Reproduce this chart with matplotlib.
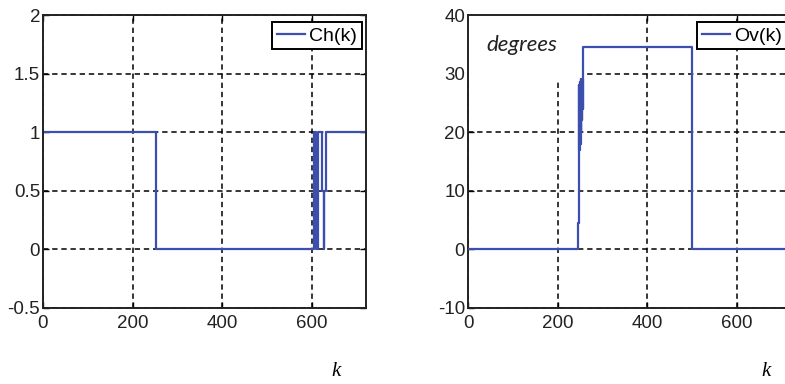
import matplotlib.pyplot as plt
from matplotlib.patches import Rectangle

plt.rcParams['axes.unicode_minus'] = False

# Ch(k): change points and values (steps-post)
k_h = [0, 253, 604, 608, 612, 621, 626, 627, 630, 720]
ch_vals = [1, 0, 1, 0, 1, 0.5, 0, 0.5, 1, 1]

# Ov(k)
k_v = [0, 246, 247, 248, 249, 250, 251, 252, 253, 254, 255, 256, 257, 500, 720]
ov_vals = [0, 4.5, 28, 17, 28.5, 18, 29, 20, 28.8, 22, 29, 24, 34.5, 0, 0]

xticks = [0, 200, 400, 600]
yticks_h = [-0.5, 0, 0.5, 1, 1.5, 2]
ytick_labels_h = ["-0.5", "0", "0.5", "1", "1.5", "2"]
yticks_v = [-10, 0, 10, 20, 30, 40]

line_col = '#3d4fae'
W, H = 785, 384

fig = plt.figure(figsize=(7.85, 3.84), dpi=100)
ax1 = fig.add_axes([43 / W, 1 - 308 / H, 323 / W, 293 / H])
ax2 = fig.add_axes([468 / W, 1 - 308 / H, 323 / W, 293 / H])


def style(ax):
    ax.set_xlim(0, 720)
    ax.set_xticks(xticks)
    ax.grid(True, color='black', linestyle=(0, (3.5, 2.5)), linewidth=1.1)
    for sp in ax.spines.values():
        sp.set_linewidth(1.4)
        sp.set_color('#222222')
    ax.tick_params(direction='in', length=4, width=1, top=True, right=True,
                   labelsize=13.5, labelcolor='#222222', pad=2)
    ax.tick_params(axis='x', pad=5)
    for lab in ax.get_xticklabels() + ax.get_yticklabels():
        lab.set_fontfamily('Liberation Sans')


ax1.plot(k_h, ch_vals, drawstyle='steps-post', color=line_col, lw=1.6, label='Ch(k)')
ax1.set_ylim(-0.5, 2)
ax1.set_yticks(yticks_h)
ax1.set_yticklabels(ytick_labels_h)
style(ax1)

ax2.plot(k_v, ov_vals, drawstyle='steps-post', color=line_col, lw=1.6, label='Ov(k)', zorder=3)
ax2.set_ylim(-10, 40)
ax2.set_yticks(yticks_v)
style(ax2)
# white box behind the "degrees" label hides part of the grid
ax2.add_patch(Rectangle((0, 0.78), 0.352, 0.22, transform=ax2.transAxes,
                        facecolor='white', edgecolor='none', zorder=1.8))
ax2.text(0.058, 0.898, 'degrees', transform=ax2.transAxes, fontsize=16,
         fontstyle='italic', family='Lato', color='#222222', va='center', zorder=4)

for ax in (ax1, ax2):
    leg = ax.legend(loc='upper right', bbox_to_anchor=(0.988, 0.976), borderaxespad=0,
                    fancybox=False, framealpha=1, edgecolor='black',
                    prop={'family': 'Liberation Sans', 'size': 14},
                    handlelength=1.45, handletextpad=0.2, borderpad=0.25)
    leg.get_frame().set_linewidth(1.4)

fig.text(336 / W, 1 - 371 / H, 'k', family='Liberation Serif', style='italic',
         fontsize=15, ha='center', va='center')
fig.text(766 / W, 1 - 371 / H, 'k', family='Liberation Serif', style='italic',
         fontsize=15, ha='center', va='center')

fig.savefig('out.png', dpi=100)
